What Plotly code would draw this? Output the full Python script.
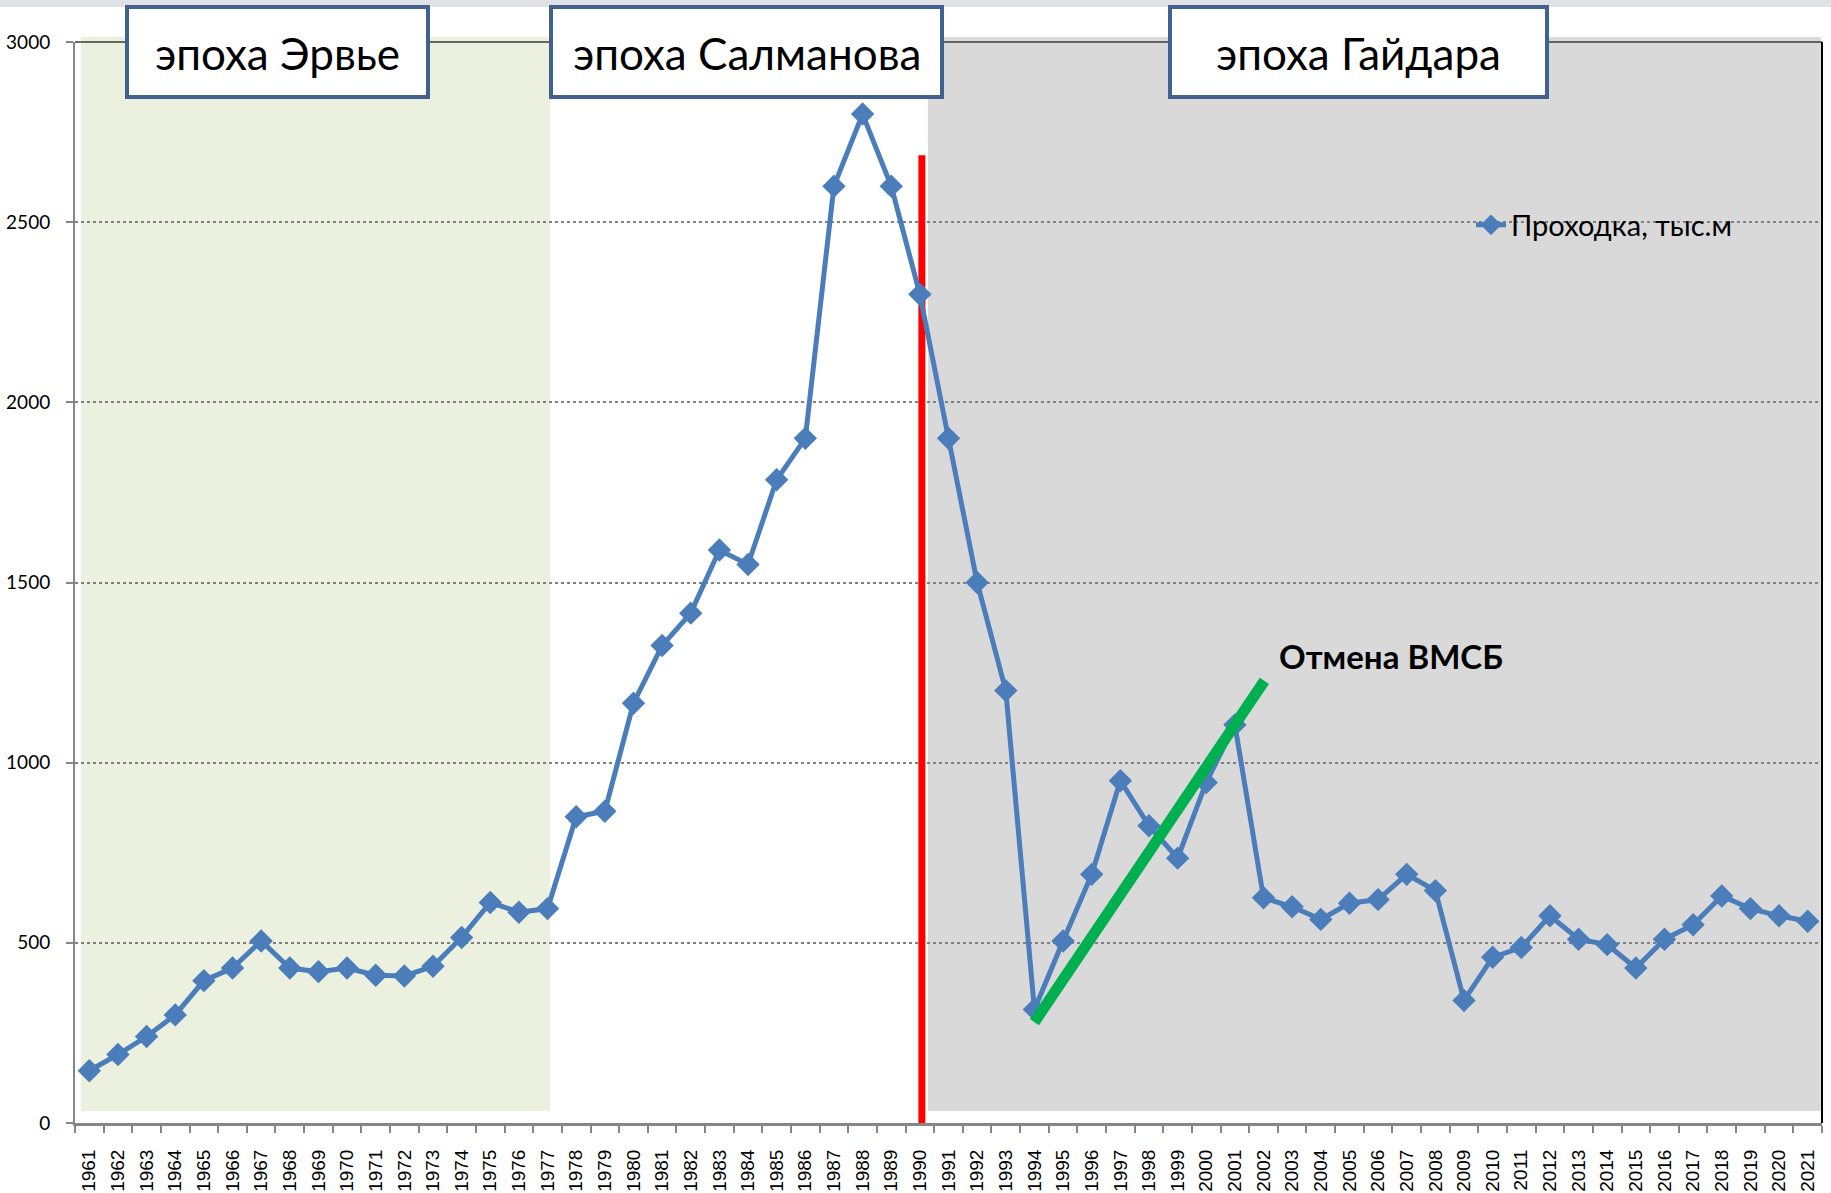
import plotly.graph_objects as go

years = list(range(1961, 2022))
drilling = [145, 190, 240, 300, 395, 430, 505, 430, 420, 430,
            410, 408, 435, 515, 612, 585, 595, 850, 865, 1165,
            1325, 1415, 1590, 1550, 1785, 1900, 2600, 2800, 2600, 2300,
            1900, 1500, 1200, 315, 505, 690, 950, 825, 735, 945,
            1105, 625, 600, 565, 610, 620, 690, 645, 340, 460,
            487, 575, 510, 495, 430, 510, 550, 630, 595, 575, 560]
series_name = "Проходка, тыс.м"
epochs = ["эпоха Эрвье", "эпоха Салманова", "эпоха Гайдара"]
annotation_text = "Отмена ВМСБ"
y_ticks = [0, 500, 1000, 1500, 2000, 2500, 3000]

W, H = 1831, 1193
L, R, T, B = 75, 1822, 42, 1123

def px(xp):
    return (xp - L) / (R - L)

def py(yp):
    return (B - yp) / (B - T)

fig = go.Figure()
fig.add_trace(go.Scatter(
    x=years, y=drilling, name=series_name, mode="lines+markers",
    line=dict(color="#4A7DBA", width=5),
    marker=dict(symbol="diamond", size=18, color="#4A7DBA"),
    showlegend=True,
))

shapes = []
# shaded epoch regions
shapes.append(dict(type="rect", xref="x", yref="paper", x0=1960.71, x1=1977.09,
                   y0=py(1111), y1=py(37), fillcolor="#EBF0DF", line=dict(width=0), layer="below"))
shapes.append(dict(type="rect", xref="x", yref="paper", x0=1990.28, x1=2021.46,
                   y0=py(1111), y1=py(37), fillcolor="#D9D9D9", line=dict(width=0), layer="below"))
# top and right borders
shapes.append(dict(type="line", xref="paper", yref="paper", x0=0, x1=1, y0=1, y1=1,
                   line=dict(color="#3A3A3A", width=1.5), layer="above"))
shapes.append(dict(type="line", xref="paper", yref="paper", x0=1, x1=1, y0=0, y1=1,
                   line=dict(color="#000000", width=2), layer="above"))
# red vertical line at 1990
shapes.append(dict(type="line", xref="x", yref="y", x0=1990.07, x1=1990.07, y0=0, y1=2686,
                   line=dict(color="#FF0000", width=7), layer="between"))
# green trend line
shapes.append(dict(type="line", xref="x", yref="y", x0=1994.0, x1=2002.03, y0=280, y1=1227,
                   line=dict(color="#00B050", width=11), layer="above"))
# top slide shadow
shapes.append(dict(type="rect", xref="paper", yref="paper", x0=px(0), x1=px(W), y0=py(0), y1=py(7),
                   fillcolor="#D3D6DA", line=dict(width=0), layer="above", opacity=0.7))

boxes = [(125, 430), (549, 944), (1168, 1549)]
for (x0, x1) in boxes:
    shapes.append(dict(type="rect", xref="paper", yref="paper",
                       x0=px(x0 + 2), x1=px(x1 - 2), y0=py(97), y1=py(7),
                       fillcolor="white", line=dict(color="#41618F", width=4), layer="above"))

annotations = []
for (x0, x1), txt in zip(boxes, epochs):
    annotations.append(dict(xref="paper", yref="paper", x=px((x0 + x1) / 2), y=py(53),
                            text=txt, showarrow=False, xanchor="center", yanchor="middle",
                            font=dict(family="Lato, Carlito, Open Sans", size=44, color="black")))
annotations.append(dict(xref="paper", yref="paper", x=px(1277), y=py(656), text="<b>" + annotation_text + "</b>",
                        showarrow=False, xanchor="left", yanchor="middle",
                        font=dict(family="Lato, Carlito, Open Sans", size=33, color="black")))

fig.update_layout(
    width=W, height=H,
    margin=dict(l=L, r=W - R, t=T, b=H - B, pad=0, autoexpand=False),
    paper_bgcolor="white", plot_bgcolor="white",
    shapes=shapes, annotations=annotations,
    legend=dict(x=px(1471), y=py(225), xanchor="left", yanchor="middle",
                bgcolor="rgba(0,0,0,0)", font=dict(family="Lato, Carlito, Open Sans", size=29, color="black")),
    xaxis=dict(
        range=[1960.5, 2021.5], tickmode="array", tickvals=years, ticktext=[str(y) for y in years],
        tickangle=-90, ticks="", showgrid=False, zeroline=False, automargin=False,
        showline=True, linecolor="#868686", linewidth=3,
        tickfont=dict(family="Liberation Sans, Arial", size=19, color="black"),
        ticklabelstandoff=16,
        minor=dict(tickmode="linear", tick0=1960.5, dtick=1, ticks="outside", ticklen=7,
                   tickcolor="#868686", tickwidth=2, showgrid=False),
    ),
    yaxis=dict(
        range=[0, 3000], tickmode="array", tickvals=y_ticks, ticks="outside", ticklen=7,
        tickcolor="#868686", tickwidth=2, automargin=False,
        showgrid=True, gridcolor="#808080", griddash="dot", gridwidth=1.5,
        zeroline=False, showline=True, linecolor="#868686", linewidth=2,
        tickfont=dict(family="Lato, Carlito, Open Sans", size=19, color="black"),
        ticklabelstandoff=12,
    ),
)

fig.write_html("out.html", config={"displayModeBar": False},
               post_script="document.body.style.margin='0';")
